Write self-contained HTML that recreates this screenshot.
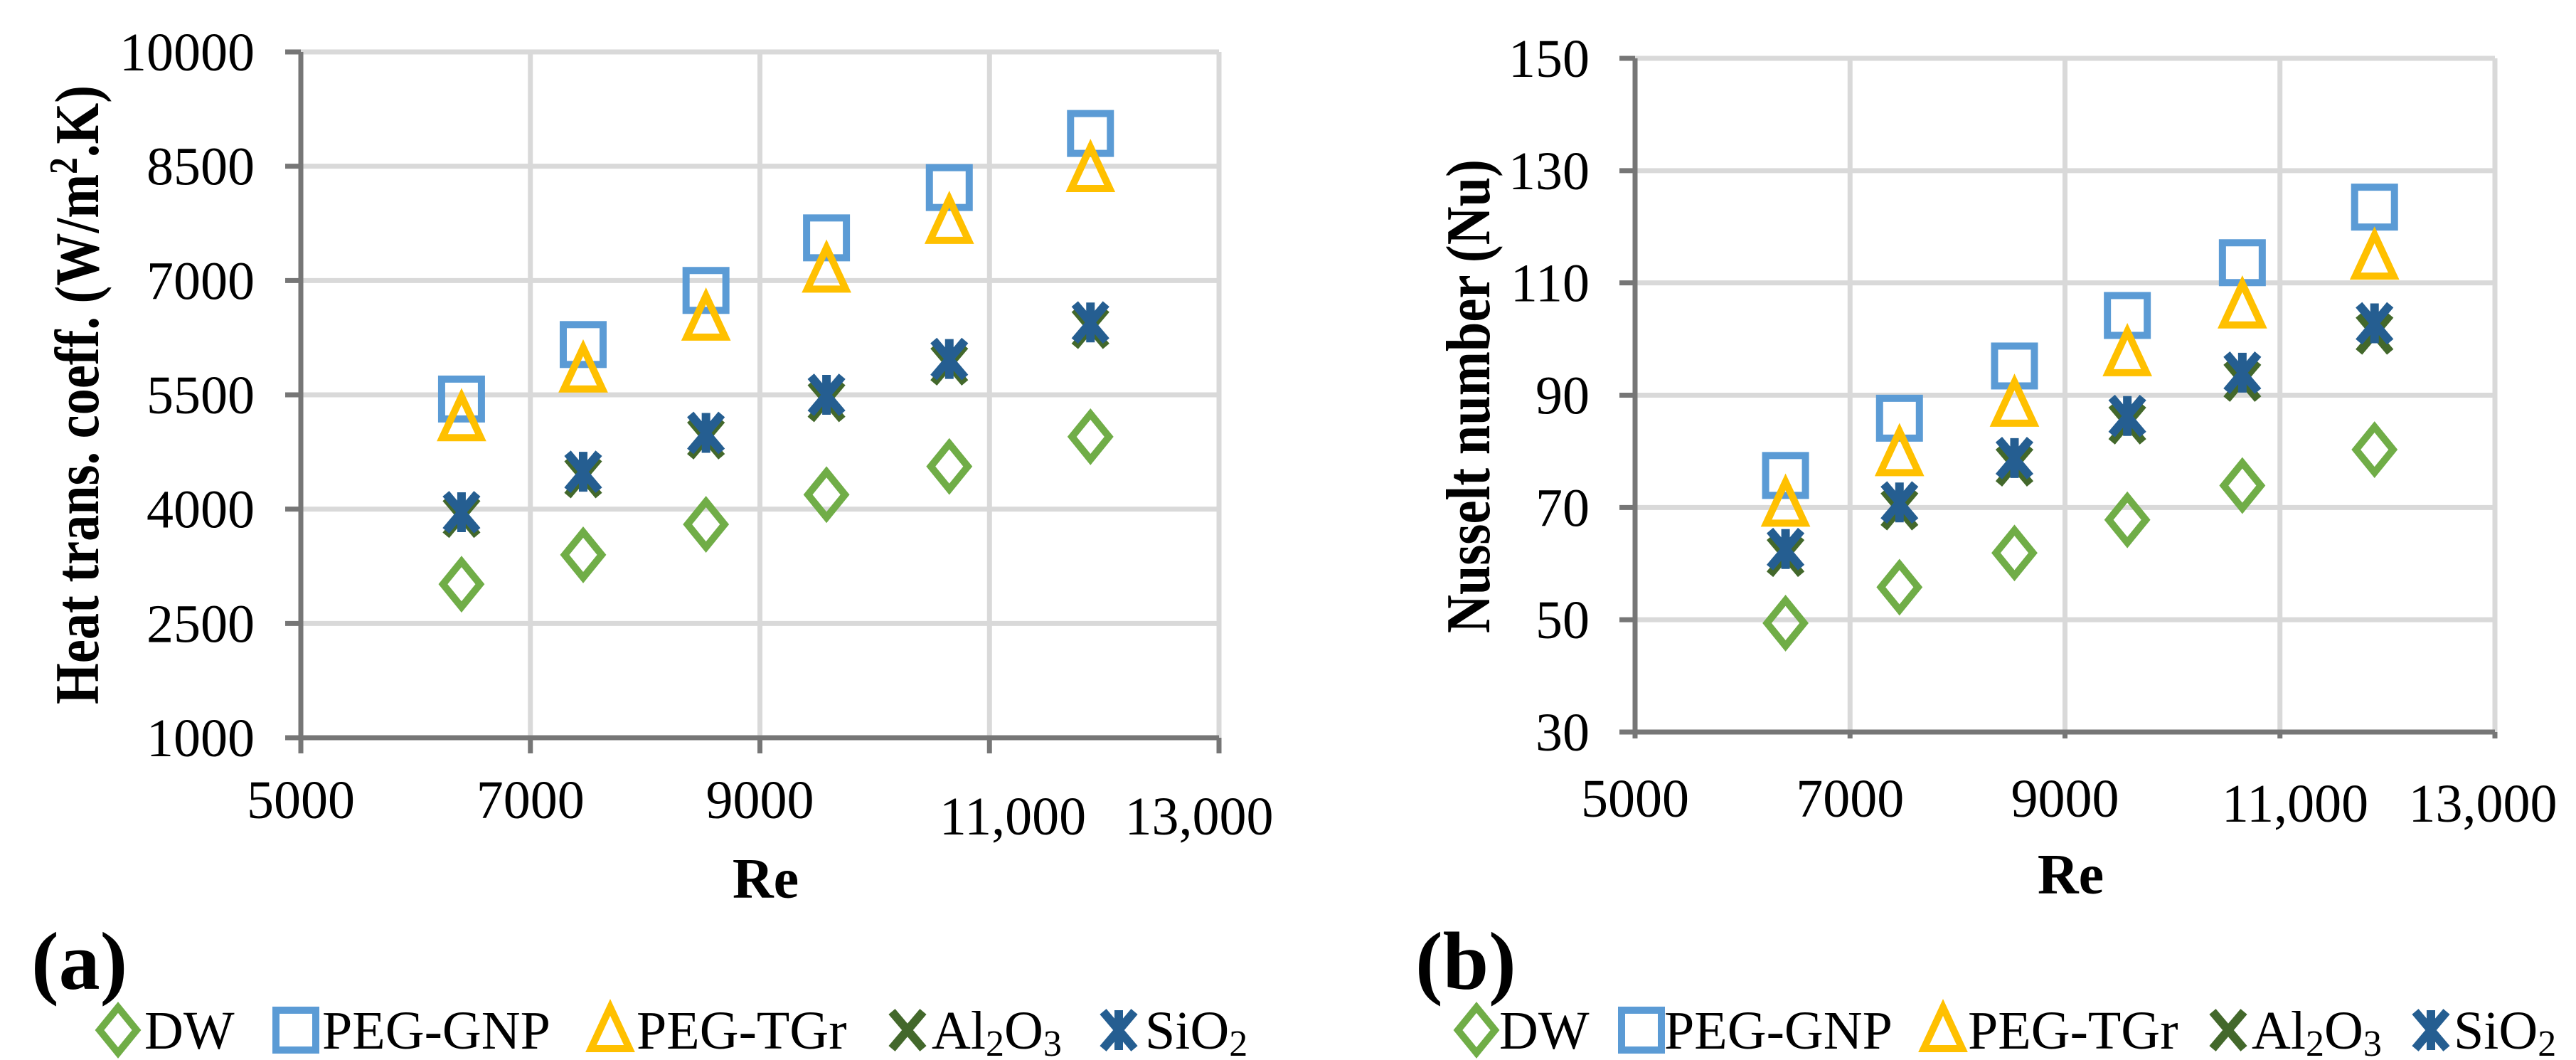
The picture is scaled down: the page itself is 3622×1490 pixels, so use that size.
<!DOCTYPE html>
<html><head><meta charset="utf-8"><style>
html,body{margin:0;padding:0;background:#fff;}
svg{display:block;font-family:"Liberation Serif",serif;}
</style></head><body>
<svg id="fig" width="3622" height="1490" viewBox="0 0 3622 1490" xmlns="http://www.w3.org/2000/svg"></svg>
<script>
const reValues = [6400, 7460, 8530, 9580, 10650, 11880];
const htcDW = [3015, 3400, 3800, 4190, 4560, 4950];
const htcGNP = [5445, 6160, 6870, 7560, 8220, 8930];
const htcTGr = [5180, 5820, 6500, 7130, 7770, 8450];
const htcAl2O3 = [3900, 4420, 4930, 5420, 5900, 6380];
const htcSiO2 = [3960, 4490, 5000, 5500, 5970, 6450];
const nuDW = [49.4, 55.8, 61.9, 67.8, 73.9, 80.3];
const nuGNP = [75.7, 85.9, 95.2, 104.2, 113.6, 123.5];
const nuTGr = [70.5, 79.5, 88.3, 97.3, 105.8, 114.5];
const nuAl2O3 = [61.4, 69.7, 77.5, 85.0, 92.6, 101.0];
const nuSiO2 = [62.6, 70.9, 78.8, 86.3, 94.0, 102.8];
const xTicks = [5000, 7000, 9000, 11000, 13000];
const xTickLabels = ["5000", "7000", "9000", "11,000", "13,000"];
const htcTicks = [1000, 2500, 4000, 5500, 7000, 8500, 10000];
const nuTicks = [30, 50, 70, 90, 110, 130, 150];

const NS = "http://www.w3.org/2000/svg";
const svg = document.getElementById("fig");
function el(tag, attrs, parent) {
  const e = document.createElementNS(NS, tag);
  for (const k in attrs) e.setAttribute(k, attrs[k]);
  (parent || svg).appendChild(e);
  return e;
}
const COL = {DW:"#70ad47", GNP:"#5b9bd5", TGr:"#ffc000", Al:"#43682b", Si:"#255e91"};

function marker(g, type, cx, cy) {
  let m;
  if (type === "DW") {
    m = el("polygon", {points:`${cx},${cy-32} ${cx+26},${cy} ${cx},${cy+32} ${cx-26},${cy}`, fill:"none", stroke:COL.DW, "stroke-width":10}, g);
  } else if (type === "GNP") {
    m = el("rect", {x:cx-28, y:cy-28, width:56, height:56, fill:"none", stroke:COL.GNP, "stroke-width":10}, g);
  } else if (type === "TGr") {
    m = el("polygon", {points:`${cx},${cy-32} ${cx+27},${cy+26} ${cx-27},${cy+26}`, fill:"none", stroke:COL.TGr, "stroke-width":10, "stroke-linejoin":"miter"}, g);
  } else if (type === "Al") {
    m = el("path", {d:`M${cx-22},${cy-26}L${cx+22},${cy+26}M${cx+22},${cy-26}L${cx-22},${cy+26}`, stroke:COL.Al, "stroke-width":12, fill:"none"}, g);
  } else {
    m = el("path", {d:`M${cx-22},${cy-26}L${cx+22},${cy+26}M${cx+22},${cy-26}L${cx-22},${cy+26}M${cx},${cy-28}L${cx},${cy+28}`, stroke:COL.Si, "stroke-width":12, fill:"none"}, g);
  }
  return m;
}

function chart(cfg) {
  const g = el("g", {});
  
  
  const xs = v => cfg.x0 + (v - 5000) / 8000 * (cfg.x1 - cfg.x0);
  const ys = v => cfg.y0 - (v - cfg.ymin) / (cfg.ymax - cfg.ymin) * (cfg.y0 - cfg.y1);
  cfg.yTicks.forEach(t => {
    if (t === cfg.ymin) return;
    const l = el("line", {x1:cfg.x0, x2:cfg.x1, y1:ys(t), y2:ys(t), stroke:"#d9d9d9", "stroke-width":7}, g);
    
    
  });
  xTicks.forEach(t => {
    if (t === 5000) return;
    const l = el("line", {x1:xs(t), x2:xs(t), y1:cfg.y1, y2:cfg.y0, stroke:"#d9d9d9", "stroke-width":7}, g);
    
    
  });
  const ya = el("line", {x1:cfg.x0, x2:cfg.x0, y1:cfg.y1, y2:cfg.y0 + cfg.tickDown, stroke:"#767676", "stroke-width":7}, g);
  
  
  const xa = el("line", {x1:cfg.x0 - 22, x2:cfg.x1, y1:cfg.y0, y2:cfg.y0, stroke:"#767676", "stroke-width":7}, g);
  
  
  cfg.yTicks.forEach(t => {
    const tk = el("line", {x1:cfg.x0 - 22, x2:cfg.x0, y1:ys(t), y2:ys(t), stroke:"#767676", "stroke-width":7}, g);
    
    
    const tx = el("text", {x:cfg.ylabRight, y:ys(t) + 26, "text-anchor":"end", "font-size":76}, g);
    tx.textContent = String(t);
    
    
  });
  xTicks.forEach((t, i) => {
    const tk = el("line", {x1:xs(t), x2:xs(t), y1:cfg.y0, y2:cfg.y0 + cfg.tickDown, stroke:"#767676", "stroke-width":7}, g);
    
    
    const cx = cfg.xlabPos[i] !== null ? cfg.xlabPos[i] : xs(t);
    const tx = el("text", {x:cx, y:cfg.xlabBase[i], "text-anchor":"middle", "font-size":76}, g);
    tx.textContent = xTickLabels[i];
    
    
  });
  const xt = el("text", {x:(cfg.x0 + cfg.x1) / 2 + 8, y:cfg.reBase, "text-anchor":"middle", "font-size":80, "font-weight":"bold"}, g);
  xt.textContent = "Re";
  
  
  const yt = el("text", {x:0, y:0, "text-anchor":"middle", "font-size":88, "font-weight":"bold",
    transform:`translate(${cfg.ytX},${cfg.ytY}) rotate(-90)`, textLength:cfg.ytLen, lengthAdjust:"spacingAndGlyphs"}, g);
  yt.innerHTML = cfg.ytitle;
  
  
  const series = [["DW", cfg.dw], ["GNP", cfg.gnp], ["TGr", cfg.tgr], ["Al", cfg.al], ["Si", cfg.si]];
  series.forEach(([k, vals]) => {
    const sg = el("g", {}, g);
    
    
    vals.forEach((v, i) => {
      const m = marker(sg, k, xs(reValues[i]), ys(v));
      
      
    });
  });
  const pl = el("text", {x:cfg.panelX, y:1390, "font-size":116, "font-weight":"bold"}, g);
  pl.textContent = cfg.panel;
  
  
  const lg = el("g", {}, g);
  
  
  const names = ["DW", "PEG-GNP", "PEG-TGr", "Al<tspan font-size='52' dy='10'>2</tspan><tspan dy='-10'>O</tspan><tspan font-size='52' dy='10'>3</tspan>", "SiO<tspan font-size='52' dy='10'>2</tspan>"];
  const keys = ["DW", "GNP", "TGr", "Al", "Si"];
  keys.forEach((k, i) => {
    const eg = el("g", {}, lg);
    
    
    marker(eg, k, cfg.legMark[i], 1448);
    const tx = el("text", {x:cfg.legText[i], y:1474, "font-size":76}, eg);
    tx.innerHTML = names[i];
  });
}

chart({name:"htc-chart", x0:423, x1:1714, y0:1037, y1:73, ymin:1000, ymax:10000, yTicks:htcTicks,
  tickDown:22, ylabRight:358, xlabPos:[null, null, null, 1424, 1686], xlabBase:[1150, 1150, 1150, 1173, 1173],
  reBase:1262, ytX:138, ytY:555, ytLen:870, ytitle:"Heat trans. coeff. (W/m<tspan font-size='56' dy='-30'>2</tspan><tspan dy='30'>.K)</tspan>",
  dw:htcDW, gnp:htcGNP, tgr:htcTGr, al:htcAl2O3, si:htcSiO2, panel:"(a)", panelX:44,
  legMark:[166, 416, 858, 1276, 1573], legText:[203, 453, 895, 1310, 1610]});

chart({name:"nusselt-chart", x0:2299, x1:3508, y0:1029, y1:82, ymin:30, ymax:150, yTicks:nuTicks,
  tickDown:9, ylabRight:2235, xlabPos:[null, null, null, 3227, 3491], xlabBase:[1148, 1148, 1148, 1155, 1155],
  reBase:1256, ytX:2094, ytY:557, ytLen:666, ytitle:"Nusselt number  (Nu)",
  dw:nuDW, gnp:nuGNP, tgr:nuTGr, al:nuAl2O3, si:nuSiO2, panel:"(b)", panelX:1990,
  legMark:[2076, 2308, 2732, 3133, 3418], legText:[2108, 2340, 2767, 3166, 3450]});
</script>
</body></html>
